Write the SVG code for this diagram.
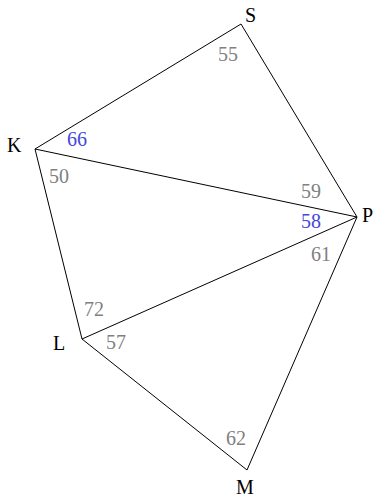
<svg xmlns="http://www.w3.org/2000/svg" width="374" height="498" viewBox="0 0 374 498">
<style>
text{font-family:"Liberation Serif","Times New Roman",serif;font-size:20px}
.v{fill:#000}
.g{fill:#808080}
.b{fill:#4646dc}
.e{stroke:#000;stroke-width:1;fill:none}
</style>
<rect width="374" height="498" fill="#fff"/>
<g id="connectors">
<line class="e" x1="241" y1="24" x2="35" y2="149"/>
<line class="e" x1="241" y1="24" x2="357" y2="217"/>
<line class="e" x1="35" y1="149" x2="357" y2="217"/>
<line class="e" x1="35" y1="149" x2="82" y2="339"/>
<line class="e" x1="82" y1="339" x2="357" y2="217"/>
<line class="e" x1="82" y1="339" x2="247" y2="470"/>
<line class="e" x1="247" y1="470" x2="357" y2="217"/>
</g>
<g id="S"><text class="v" x="245" y="22">S</text></g>
<g id="K"><text class="v" x="7" y="152">K</text></g>
<g id="P"><text class="v" x="362" y="222">P</text></g>
<g id="L"><text class="v" x="53" y="350">L</text></g>
<g id="M"><text class="v" x="236" y="494">M</text></g>
<g id="angles">
<text class="g" x="218" y="61">55</text>
<text class="b" x="67" y="146">66</text>
<text class="g" x="49" y="183">50</text>
<text class="g" x="301" y="198">59</text>
<text class="b" x="301" y="228">58</text>
<text class="g" x="311" y="261">61</text>
<text class="g" x="84" y="316">72</text>
<text class="g" x="106" y="349">57</text>
<text class="g" x="226" y="445">62</text>
</g>
</svg>
